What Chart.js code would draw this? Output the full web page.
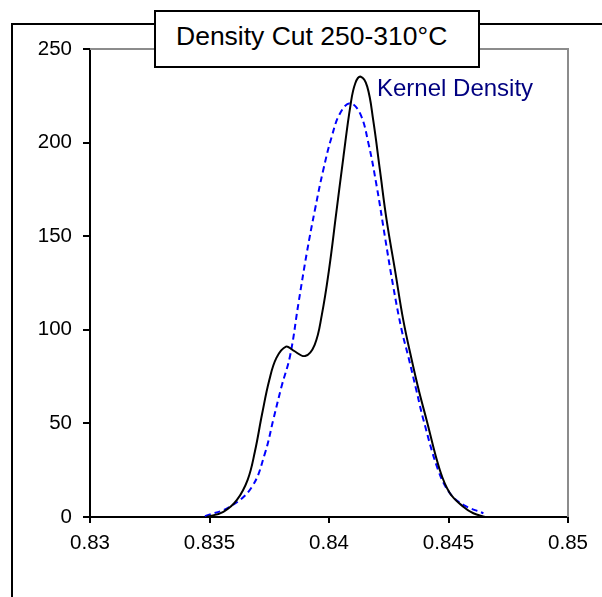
<!DOCTYPE html>
<html>
<head>
<meta charset="utf-8">
<script src="https://cdn.jsdelivr.net/npm/chart.js@4/dist/chart.umd.min.js"></script>
<style>
	html, body { margin: 0; padding: 0; background: #fff; overflow: hidden; }
	#wrap { position: relative; width: 602px; height: 597px; overflow: hidden; font-family: "Liberation Sans", Arial, sans-serif; }
	#frame { position: absolute; left: 11px; top: 23px; width: 700px; height: 700px; border-left: 2px solid #000; border-top: 2px solid #000; }
	#chart { position: absolute; left: 0; top: 0; }
	#titleBox { position: absolute; left: 154px; top: 10px; width: 322px; height: 54px; border: 2px solid #000; background: #fff; }
	#titleText { position: absolute; left: 176px; top: 23px; font-size: 26.5px; line-height: 26px; color: #000; white-space: nowrap; }
	#kdLabel { position: absolute; left: 377px; top: 76px; font-size: 24px; line-height: 24px; color: #000080; white-space: nowrap; }
</style>
</head>
<body>
<div id="wrap">
	<div id="frame"></div>
	<canvas id="chart" width="602" height="597"></canvas>
	<div id="titleBox"></div>
	<div id="titleText">Density Cut 250-310°C</div>
	<div id="kdLabel">Kernel Density</div>
</div>
<script>
// measured density curve (solid black)
const densX = [0.83488, 0.83558, 0.83614, 0.8366, 0.8369, 0.8372, 0.8375, 0.8378, 0.8382, 0.8385, 0.8390,
	0.8394, 0.8397, 0.8400, 0.8403, 0.8406, 0.8409, 0.8411, 0.84133, 0.8416, 0.84185, 0.84213,
	0.84241, 0.84276, 0.84311, 0.84346, 0.84377, 0.84408, 0.84464, 0.84506, 0.84562, 0.84604, 0.84653];
const densY = [0, 2.8, 9, 20, 35, 55, 73, 85, 91, 89, 86,
	92, 108, 132, 162, 192, 220, 231.7, 235.2, 229.9, 212, 185.4,
	158.7, 132, 105, 84, 67, 52, 25, 12.7, 5.5, 2, 0];

// kernel density curve (dashed blue)
const kernelX = [0.83481, 0.83586, 0.83677, 0.83732, 0.83767, 0.83802, 0.83837, 0.83872, 0.83907, 0.83941, 0.83976,
	0.84011, 0.84046, 0.84088, 0.8413, 0.84165, 0.842, 0.84234, 0.84269, 0.84304, 0.84332, 0.84365, 0.84395,
	0.84457, 0.84506, 0.84562, 0.84646];
const kernelY = [0.5, 5.5, 16, 34, 52, 70, 86, 114, 141, 164, 185.4,
	203, 215.6, 221, 215.6, 199.6, 176.4, 149.7, 123, 99.9, 85.6, 68, 52,
	25, 12.7, 6.5, 2];

const xTicks = [0.83, 0.835, 0.84, 0.845, 0.85];
const yTicks = [0, 50, 100, 150, 200, 250];

const toPoints = (xs, ys) => xs.map((x, i) => ({ x: x, y: ys[i] }));

// gray top/right edge of the plot area
const plotEdge = {
	id: 'plotEdge',
	beforeDatasetsDraw(chart) {
		const a = chart.chartArea, ctx = chart.ctx;
		ctx.save();
		ctx.strokeStyle = '#8c8c8c';
		ctx.lineWidth = 2;
		ctx.beginPath();
		ctx.moveTo(a.left, a.top);
		ctx.lineTo(a.right, a.top);
		ctx.lineTo(a.right, a.bottom);
		ctx.stroke();
		ctx.restore();
	}
};

const tickFont = { family: '"Liberation Sans", Arial, sans-serif', size: 20.5 };

new Chart(document.getElementById('chart'), {
	type: 'line',
	data: {
		datasets: [
			{
				label: 'Density',
				data: toPoints(densX, densY),
				borderColor: '#000',
				borderWidth: 2,
				pointRadius: 0,
				tension: 0.4,
				fill: false
			},
			{
				label: 'Kernel Density',
				data: toPoints(kernelX, kernelY),
				borderColor: '#0000ff',
				borderWidth: 2,
				borderDash: [6, 4],
				pointRadius: 0,
				tension: 0.4,
				fill: false
			}
		]
	},
	options: {
		responsive: false,
		animation: false,
		layout: { padding: { left: 0, top: 49, right: 34, bottom: 0 } },
		plugins: { legend: { display: false }, tooltip: { enabled: false } },
		scales: {
			x: {
				type: 'linear',
				min: xTicks[0],
				max: xTicks[xTicks.length - 1],
				afterBuildTicks: s => { s.ticks = xTicks.map(v => ({ value: v })); },
				afterFit: s => { s.height = 80; },
				border: { display: true, color: '#000', width: 2 },
				grid: { drawOnChartArea: false, drawTicks: true, tickLength: 6, color: '#000', lineWidth: 2 },
				ticks: {
					color: '#000',
					font: tickFont,
					padding: 8,
					maxRotation: 0,
					callback: v => String(parseFloat(Number(v).toFixed(3)))
				}
			},
			y: {
				min: yTicks[0],
				max: yTicks[yTicks.length - 1],
				afterBuildTicks: s => { s.ticks = yTicks.map(v => ({ value: v })); },
				afterFit: s => { s.width = 90; },
				border: { display: true, color: '#000', width: 2 },
				grid: { drawOnChartArea: false, drawTicks: true, tickLength: 7, color: '#000', lineWidth: 2 },
				ticks: { color: '#000', font: tickFont, padding: 11 }
			}
		}
	},
	plugins: [plotEdge]
});
</script>
</body>
</html>
